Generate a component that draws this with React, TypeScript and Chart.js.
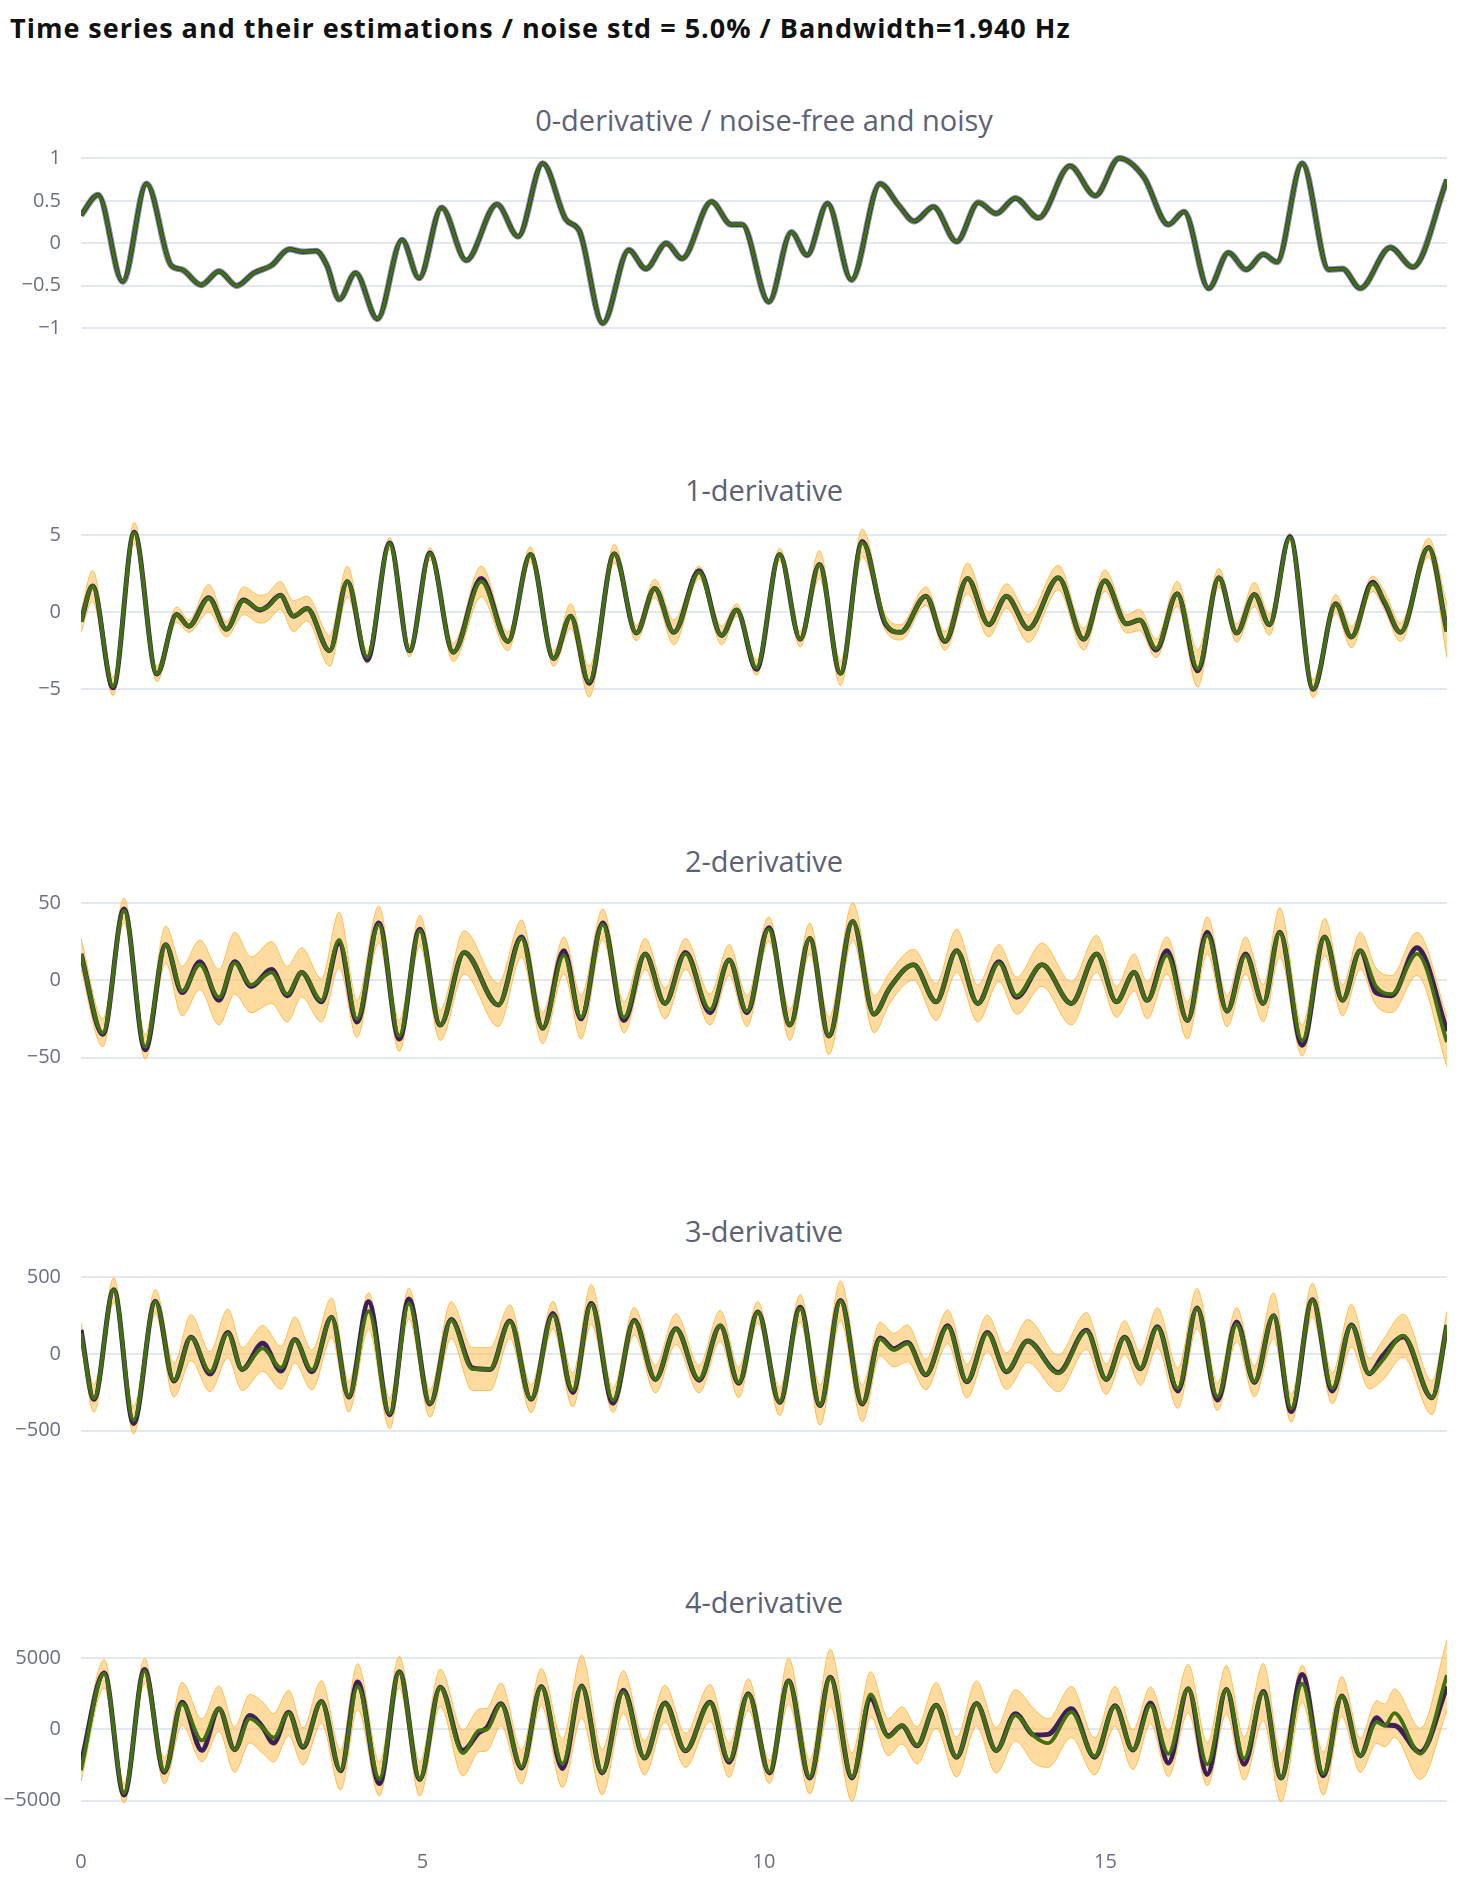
import { useEffect, useRef } from "react";
import { Chart, registerables } from "chart.js";

Chart.register(...registerables);

const MAIN_TITLE = "Time series and their estimations / noise std = 5.0% / Bandwidth=1.940 Hz";
const PANEL_TITLES = [
  "0-derivative / noise-free and noisy",
  "1-derivative",
  "2-derivative",
  "3-derivative",
  "4-derivative",
];
const X_TICKS = [0, 5, 10, 15];
const Y_TICKS = [
  [-1, -0.5, 0, 0.5, 1],
  [-5, 0, 5],
  [-50, 0, 50],
  [-500, 0, 500],
  [-5000, 0, 5000],
];
const Y_RANGES = [
  [-1.068, 1.075],
  [-5.95, 5.86],
  [-61.3, 56.4],
  [-593, 594],
  [-6073, 6690],
];

// 0-derivative: the same key points for noise-free, noisy and estimate
const t0 = [0, 0.25, 0.61, 0.96, 1.32, 1.48, 1.76, 2.02, 2.28, 2.53, 2.79, 3.05, 3.25, 3.44, 3.6, 3.78, 4.02, 4.34, 4.7, 4.95, 5.28, 5.64, 6.09, 6.4, 6.76, 7.1, 7.3, 7.64, 8.02, 8.27, 8.57, 8.8, 9.23, 9.52, 9.68, 10.07, 10.4, 10.63, 10.93, 11.28, 11.7, 11.97, 12.2, 12.48, 12.82, 13.14, 13.4, 13.68, 14.02, 14.48, 14.85, 15.2, 15.56, 15.92, 16.15, 16.51, 16.8, 17.06, 17.31, 17.51, 17.88, 18.27, 18.47, 18.73, 19.17, 19.5, 20];
const signal0 = [0.33, 0.57, -0.45, 0.7, -0.26, -0.31, -0.49, -0.33, -0.5, -0.35, -0.26, -0.07, -0.1, -0.09, -0.26, -0.66, -0.35, -0.89, 0.04, -0.41, 0.42, -0.2, 0.46, 0.08, 0.94, 0.28, 0.14, -0.94, -0.08, -0.3, 0.0, -0.18, 0.49, 0.22, 0.22, -0.69, 0.13, -0.14, 0.47, -0.43, 0.7, 0.45, 0.26, 0.43, 0.02, 0.48, 0.35, 0.53, 0.3, 0.91, 0.56, 1.0, 0.78, 0.22, 0.37, -0.53, -0.11, -0.31, -0.13, -0.22, 0.94, -0.31, -0.3, -0.53, -0.05, -0.28, 0.75];

// 1-derivative
const t1 = [0, 0.17, 0.47, 0.78, 1.11, 1.4, 1.58, 1.87, 2.13, 2.38, 2.62, 2.72, 2.92, 3.11, 3.31, 3.64, 3.9, 4.19, 4.52, 4.81, 5.11, 5.45, 5.86, 6.25, 6.58, 6.92, 7.17, 7.44, 7.81, 8.13, 8.4, 8.68, 9.05, 9.38, 9.6, 9.89, 10.23, 10.53, 10.81, 11.12, 11.44, 11.77, 12.0, 12.37, 12.65, 12.98, 13.29, 13.55, 13.87, 14.31, 14.68, 14.99, 15.31, 15.5, 15.74, 16.05, 16.35, 16.66, 16.92, 17.18, 17.4, 17.7, 18.04, 18.37, 18.6, 18.91, 19.09, 19.32, 19.73, 20];
const est1 = [-0.6, 1.7, -4.8, 5.15, -4.0, -0.15, -0.9, 0.9, -1.1, 0.75, 0.2, 0.3, 1.1, -0.25, 0.25, -2.5, 2.0, -2.9, 4.45, -2.5, 3.8, -2.6, 2.0, -1.9, 3.75, -3.0, -0.25, -4.5, 3.8, -1.35, 1.55, -1.3, 2.6, -1.5, 0.15, -3.6, 3.75, -1.75, 3.1, -3.95, 4.5, -0.6, -1.3, 1.05, -1.85, 2.2, -0.8, 1.05, -1.05, 2.25, -1.75, 2.05, -0.75, -0.5, -2.35, 1.2, -3.65, 2.25, -1.35, 1.15, -0.8, 4.85, -4.95, 0.55, -1.6, 1.85, 0.7, -1.3, 4.2, -1.25];
const true1 = [-0.6, 1.7, -4.9, 5.2, -4.0, -0.15, -0.9, 0.95, -1.1, 0.8, 0.15, 0.35, 1.1, -0.25, 0.25, -2.5, 2.0, -3.1, 4.5, -2.5, 3.85, -2.6, 2.2, -1.9, 3.75, -3.0, -0.25, -4.6, 3.8, -1.35, 1.55, -1.3, 2.7, -1.5, 0.15, -3.7, 3.75, -1.75, 3.1, -3.95, 4.6, -0.7, -1.3, 1.05, -1.9, 2.2, -0.8, 1.05, -1.05, 2.25, -1.75, 2.05, -0.75, -0.5, -2.45, 1.2, -3.8, 2.25, -1.35, 1.15, -0.8, 4.9, -5.0, 0.55, -1.6, 1.95, 0.6, -1.3, 4.2, -1.25];
const spread1 = [0.7, 1.0, 0.6, 0.7, 0.5, 0.5, 0.4, 0.9, 0.5, 0.9, 0.9, 0.9, 0.9, 1.0, 0.8, 1.0, 1.0, 0.4, 0.4, 0.4, 0.4, 0.6, 1.0, 0.6, 0.5, 0.5, 0.8, 1.0, 0.6, 0.5, 0.6, 0.8, 0.4, 0.6, 0.4, 0.5, 0.4, 0.5, 0.9, 0.8, 0.9, 0.5, 0.5, 0.6, 0.6, 1.0, 0.8, 0.8, 0.9, 0.8, 0.7, 0.7, 0.6, 0.7, 0.6, 0.8, 1.2, 0.6, 0.6, 0.8, 0.7, 0.3, 0.6, 0.6, 0.7, 0.5, 0.6, 0.6, 0.6, 1.7];

// 2-derivative
const t2 = [0, 0.32, 0.63, 0.94, 1.24, 1.48, 1.74, 2.02, 2.25, 2.49, 2.79, 3.02, 3.23, 3.52, 3.78, 4.04, 4.36, 4.66, 4.96, 5.26, 5.61, 6.11, 6.45, 6.76, 7.07, 7.32, 7.64, 7.95, 8.26, 8.55, 8.85, 9.21, 9.49, 9.75, 10.07, 10.38, 10.67, 10.95, 11.3, 11.61, 11.84, 12.19, 12.52, 12.82, 13.13, 13.44, 13.7, 14.07, 14.5, 14.87, 15.16, 15.42, 15.61, 15.9, 16.2, 16.49, 16.78, 17.05, 17.31, 17.55, 17.88, 18.21, 18.47, 18.73, 18.96, 19.19, 19.56, 20];
const est2 = [17, -34, 45, -43, 23, -7, 10, -11, 11, -3, 5, -9, 5, -13, 26, -25, 36, -36, 32, -29, 18, -16, 27, -31, 16, -24, 36, -24, 17, -15, 17, -19, 13, -20, 33, -29, 27, -36, 38, -22, -5, 10, -14, 19, -15, 11, -10, 10, -15, 17, -14, 5, -13, 16, -26, 29, -20, 16, -15, 31, -39, 28, -13, 19, -4, -9, 17, -40];
const true2 = [17, -35, 46, -45, 23, -8, 12, -13, 12, -4, 7, -10, 5, -14, 24, -27, 37, -38, 33, -29, 18, -16, 28, -31, 19, -25, 37, -26, 17, -15, 18, -21, 13, -21, 34, -29, 27, -36, 38, -22, -5, 10, -14, 19, -15, 12, -11, 10, -15, 17, -14, 5, -13, 19, -26, 31, -20, 17, -15, 31, -42, 28, -13, 19, -8, -10, 21, -33];
const spread2 = [10, 9, 8, 8, 12, 16, 16, 18, 20, 18, 20, 18, 16, 14, 18, 12, 12, 10, 10, 10, 14, 14, 12, 10, 12, 14, 10, 10, 10, 10, 10, 10, 10, 10, 8, 10, 10, 12, 12, 12, 10, 10, 12, 14, 12, 12, 12, 14, 14, 12, 10, 12, 12, 12, 12, 12, 10, 12, 12, 16, 10, 12, 10, 12, 12, 12, 14, 16];

// 3-derivative
const t3 = [0, 0.19, 0.48, 0.77, 1.09, 1.36, 1.61, 1.89, 2.15, 2.36, 2.66, 2.93, 3.13, 3.38, 3.67, 3.92, 4.21, 4.52, 4.8, 5.11, 5.42, 5.73, 5.99, 6.28, 6.59, 6.91, 7.2, 7.47, 7.79, 8.1, 8.41, 8.71, 9.05, 9.36, 9.63, 9.91, 10.23, 10.53, 10.82, 11.12, 11.44, 11.7, 11.9, 12.1, 12.37, 12.69, 12.97, 13.27, 13.55, 13.86, 14.31, 14.72, 15.01, 15.28, 15.51, 15.76, 16.06, 16.34, 16.64, 16.92, 17.18, 17.46, 17.72, 18.03, 18.32, 18.6, 18.86, 19.06, 19.36, 19.78, 20];
const est3 = [135, -289, 417, -430, 341, -170, 107, -115, 135, -98, 37, -89, 91, -104, 237, -278, 280, -387, 330, -322, 222, -98, -98, 211, -293, 254, -235, 324, -300, 215, -163, 163, -163, 185, -185, 272, -311, 298, -333, 346, -322, 98, 26, 70, -133, 178, -176, 135, -111, 85, -126, 150, -163, 107, -93, 172, -224, 298, -278, 193, -180, 250, -354, 352, -224, 185, -126, -39, 120, -285, 189];
const true3 = [157, -295, 420, -452, 345, -175, 110, -130, 140, -100, 70, -110, 95, -115, 240, -280, 341, -395, 359, -325, 225, -90, -100, 215, -295, 265, -250, 330, -320, 220, -165, 165, -170, 185, -190, 275, -315, 305, -335, 350, -325, 105, 35, 75, -135, 185, -180, 140, -115, 85, -120, 155, -165, 110, -95, 178, -240, 300, -300, 210, -185, 250, -375, 355, -240, 190, -128, -10, 113, -285, 189];
const spread3 = [70, 90, 80, 90, 80, 110, 150, 130, 160, 140, 150, 140, 150, 130, 130, 100, 120, 100, 100, 90, 120, 140, 140, 110, 90, 90, 110, 130, 80, 90, 90, 100, 90, 100, 100, 70, 90, 90, 130, 130, 120, 110, 110, 120, 100, 110, 110, 120, 120, 140, 120, 120, 100, 110, 110, 130, 130, 130, 90, 110, 100, 150, 90, 110, 100, 140, 100, 130, 140, 110, 90];

// 4-derivative
const t4 = [0, 0.34, 0.63, 0.93, 1.22, 1.48, 1.77, 2.02, 2.25, 2.47, 2.66, 2.82, 3.04, 3.25, 3.52, 3.8, 4.05, 4.37, 4.66, 4.96, 5.26, 5.59, 5.83, 5.94, 6.15, 6.45, 6.74, 7.05, 7.33, 7.63, 7.94, 8.25, 8.55, 8.85, 9.21, 9.49, 9.77, 10.08, 10.36, 10.67, 10.97, 11.29, 11.56, 11.82, 12.02, 12.24, 12.52, 12.82, 13.11, 13.4, 13.68, 13.96, 14.16, 14.5, 14.84, 15.14, 15.4, 15.66, 15.92, 16.21, 16.49, 16.77, 17.03, 17.31, 17.57, 17.88, 18.19, 18.46, 18.73, 18.97, 19.09, 19.23, 19.61, 20];
const est4 = [-2870, 3900, -4460, 4090, -2920, 1800, -770, 1450, -1420, 750, 120, -580, 1140, -1190, 1920, -2870, 3010, -3460, 4020, -3460, 2920, -1660, -70, -20, 1750, -2640, 2970, -2400, 3010, -2990, 2620, -1990, 1800, -1470, 1850, -2170, 2450, -2990, 3390, -3340, 3620, -3340, 2450, -540, 280, -1120, 1680, -1940, 1800, -1470, 980, -490, -960, 1210, -1890, 1610, -1420, 1680, -1710, 2850, -2450, 2780, -2060, 2620, -3390, 3200, -3110, 2310, -1820, 510, 280, 1140, -1710, 3800];
const true4 = [-2400, 3950, -4600, 4200, -3000, 1900, -1470, 1450, -1420, 980, 150, -960, 1200, -1250, 1950, -2900, 3320, -3800, 4050, -3500, 2950, -1470, -200, 100, 1800, -2700, 3000, -2740, 3050, -3050, 2750, -2000, 1850, -1500, 1900, -2300, 2500, -3050, 3390, -3400, 3650, -3400, 2150, -450, 250, -1150, 1700, -1950, 1820, -1480, 1100, -400, -350, 1450, -1950, 1650, -1450, 1850, -2360, 2850, -3150, 2800, -2450, 2650, -3400, 3850, -3250, 2350, -1850, 820, 300, 280, -1600, 3000];
const spread4 = [800, 1000, 700, 900, 900, 1500, 1500, 1600, 1600, 1700, 1800, 1700, 1600, 1300, 1500, 1400, 1600, 1200, 1100, 1200, 1300, 1600, 1500, 1500, 1500, 1200, 1300, 1700, 2200, 1600, 1500, 1200, 1300, 1200, 1300, 1200, 1100, 800, 1600, 1200, 2000, 1700, 1600, 1300, 1300, 1300, 1600, 1400, 1600, 1600, 1800, 1900, 1700, 1800, 1300, 1400, 1400, 1300, 1600, 1700, 1500, 1700, 1500, 2000, 1700, 1300, 1500, 1400, 1200, 1500, 1500, 1700, 1800, 2500];

const FONT = "'Open Sans', 'Noto Sans', sans-serif";
const TICK_COLOR = "#6b6f86";
const GREEN = "#407010";
const PURPLE = "#3a1f5a";
const NAVY = "#17187a";

const pts = (ts: number[], vs: number[]) => ts.map((t, i) => ({ x: t, y: vs[i] }));
const shifted = (ts: number[], vs: number[], sp: number[], sign: number) =>
  ts.map((t, i) => ({ x: t, y: vs[i] + sign * sp[i] }));

const line = (data: any[], color: string, width: number, order: number) => ({
  data,
  borderColor: color,
  borderWidth: width,
  pointRadius: 0,
  fill: false,
  cubicInterpolationMode: "monotone" as const,
  order,
});

function datasetsFor(k: number): any[] {
  if (k === 0) {
    return [
      line(pts(t0, signal0), GREEN, 3.2, 1),
      line(pts(t0, signal0), NAVY, 4.2, 2),
      line(pts(t0, signal0), "#8e8e8e", 6.5, 3),
    ];
  }
  const series = [
    null,
    [t1, est1, true1, spread1],
    [t2, est2, true2, spread2],
    [t3, est3, true3, spread3],
    [t4, est4, true4, spread4],
  ][k] as number[][];
  const [ts, est, tru, sp] = series;
  return [
    line(shifted(ts, est, sp, 1), "rgba(255,176,50,0.8)", 1, 5),
    {
      ...line(shifted(ts, est, sp, -1), "rgba(255,176,50,0.8)", 1, 4),
      fill: "-1",
      backgroundColor: "rgba(255,190,80,0.55)",
    },
    line(pts(ts, tru), PURPLE, 5, 2),
    line(pts(ts, est), GREEN, 3.8, 1),
  ];
}

const fmt = (v: number) => String(v).replace("-", "\u2212");

const TOP0 = 152;
const STEP = 370.4;
const PLOT_H = 182;
const PAD = 16;
const X_AXIS_H = 60;

function Panel({ k }: { k: number }) {
  const ref = useRef<HTMLCanvasElement>(null);
  const last = k === 4;

  useEffect(() => {
    if (!ref.current) return;
    const chart = new Chart(ref.current, {
      type: "line",
      data: { datasets: datasetsFor(k) },
      options: {
        animation: false,
        responsive: true,
        maintainAspectRatio: false,
        layout: { padding: { top: PAD, bottom: last ? 0 : PAD, left: 0, right: 25 } },
        plugins: { legend: { display: false }, tooltip: { enabled: false } },
        scales: {
          x: {
            type: "linear",
            min: 0,
            max: 20,
            display: last,
            grid: { display: false },
            border: { display: false },
            afterBuildTicks: (s: any) => {
              s.ticks = X_TICKS.map((v) => ({ value: v }));
            },
            afterFit: (s: any) => {
              if (last) s.height = X_AXIS_H;
              s.paddingLeft = 0;
              s.paddingRight = 0;
            },
            ticks: {
              padding: 26,
              color: TICK_COLOR,
              font: { family: FONT, size: 20 },
              maxRotation: 0,
              callback: (v: any) => fmt(Number(v)),
            },
          },
          y: {
            min: Y_RANGES[k][0],
            max: Y_RANGES[k][1],
            afterFit: (s: any) => {
              s.width = 81;
              s.paddingTop = 0;
              s.paddingBottom = 0;
            },
            afterBuildTicks: (s: any) => {
              s.ticks = Y_TICKS[k].map((v) => ({ value: v }));
            },
            grid: { color: "#e3e7ef", lineWidth: 2, drawTicks: false },
            border: { display: false },
            ticks: {
              padding: 20,
              color: TICK_COLOR,
              font: { family: FONT, size: 20 },
              callback: (v: any) => fmt(Number(v)),
            },
          },
        },
      } as any,
    });
    return () => chart.destroy();
  }, [k]);

  const top = TOP0 + STEP * k;
  return (
    <>
      <div
        style={{
          position: "absolute",
          left: 81,
          width: 1366,
          top: top - 52,
          height: 40,
          lineHeight: "40px",
          textAlign: "center",
          fontFamily: FONT,
          fontSize: 29,
          color: "#5d6177",
          whiteSpace: "nowrap",
        }}
      >
        {PANEL_TITLES[k]}
      </div>
      <div
        style={{
          position: "absolute",
          left: 0,
          top: top - PAD,
          width: 1472,
          height: last ? PLOT_H + PAD + X_AXIS_H : PLOT_H + 2 * PAD,
        }}
      >
        <canvas ref={ref} />
      </div>
    </>
  );
}

export default function App() {
  return (
    <div style={{ position: "absolute", left: 0, top: 0, width: 1472, height: 1892, background: "#fff" }}>
      <div
        style={{
          position: "absolute",
          left: 10,
          top: 10,
          fontFamily: FONT,
          fontWeight: 700,
          fontSize: 27,
          letterSpacing: "1px",
          lineHeight: "36px",
          color: "#111",
          whiteSpace: "nowrap",
        }}
      >
        {MAIN_TITLE}
      </div>
      {[0, 1, 2, 3, 4].map((k) => (
        <Panel key={k} k={k} />
      ))}
    </div>
  );
}
